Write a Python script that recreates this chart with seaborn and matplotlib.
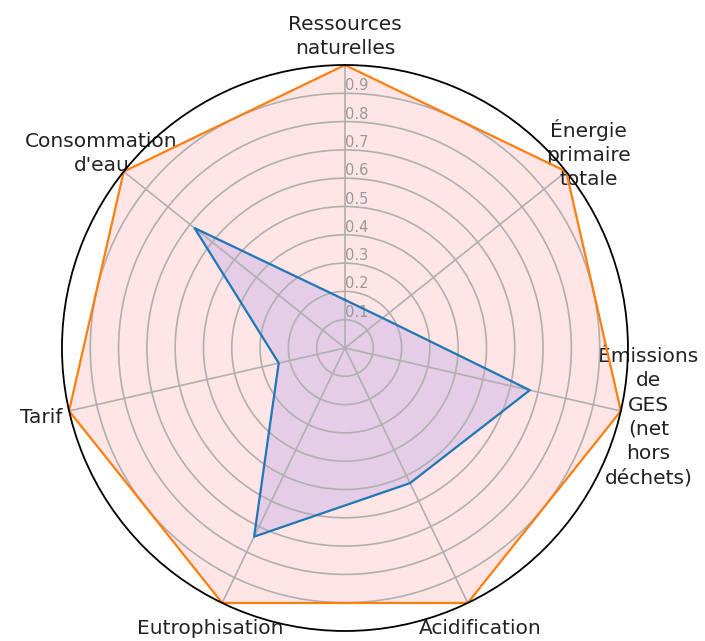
import numpy as np
import matplotlib
matplotlib.use("Agg")
import matplotlib.pyplot as plt
import seaborn as sns

# categories, clockwise from the top
categories = [
    "Ressources\nnaturelles",
    "Énergie\nprimaire\ntotale",
    "Émissions\nde\nGES\n(net\nhors\ndéchets)",
    "Acidification",
    "Eutrophisation",
    "Tarif",
    "Consommation\nd'eau",
]
reference_values = [1.0, 1.0, 1.0, 1.0, 1.0, 1.0, 1.0]
product_values = [0.17, 0.17, 0.67, 0.53, 0.74, 0.24, 0.68]
radial_ticks = [0.1, 0.2, 0.3, 0.4, 0.5, 0.6, 0.7, 0.8, 0.9]

palette = sns.color_palette("tab10")

n = len(categories)
angles = np.linspace(0, 2 * np.pi, n, endpoint=False)
closed_angles = np.append(angles, 2 * np.pi)

fig = plt.figure(figsize=(7.05, 6.41), dpi=100)
ax = fig.add_axes([0.0879, 0.0156, 0.8028, 0.883], projection="polar")
ax.set_theta_offset(np.pi / 2)
ax.set_theta_direction(-1)

# reference polygon (all at 1)
ref = np.append(reference_values, reference_values[0])
sns.lineplot(x=closed_angles, y=ref, ax=ax, sort=False, estimator=None,
             color=palette[1], linewidth=1.6)
ax.fill(closed_angles, ref, color="red", alpha=0.1)

# product polygon
prod = np.append(product_values, product_values[0])
sns.lineplot(x=closed_angles, y=prod, ax=ax, sort=False, estimator=None,
             color=palette[0], linewidth=1.6)
ax.fill(closed_angles, prod, color="blue", alpha=0.1)

ax.set_ylim(0, 1)
ax.set_xticks(angles)
ax.set_xticklabels(categories, fontsize=14.5, color="#222222", linespacing=1.35)
ax.tick_params(axis="x", pad=10)
ax.set_yticks(radial_ticks)
ax.set_yticklabels([f"{t:.1f}" for t in radial_ticks], fontsize=10.5, color="#999999")
ax.set_rlabel_position(0)
ax.grid(True, color="#b0b0b0", linewidth=1.2)
ax.spines["polar"].set_linewidth(1.3)
ax.set_xlabel("")
ax.set_ylabel("")

plt.savefig("out.png", dpi=100)
plt.close()
